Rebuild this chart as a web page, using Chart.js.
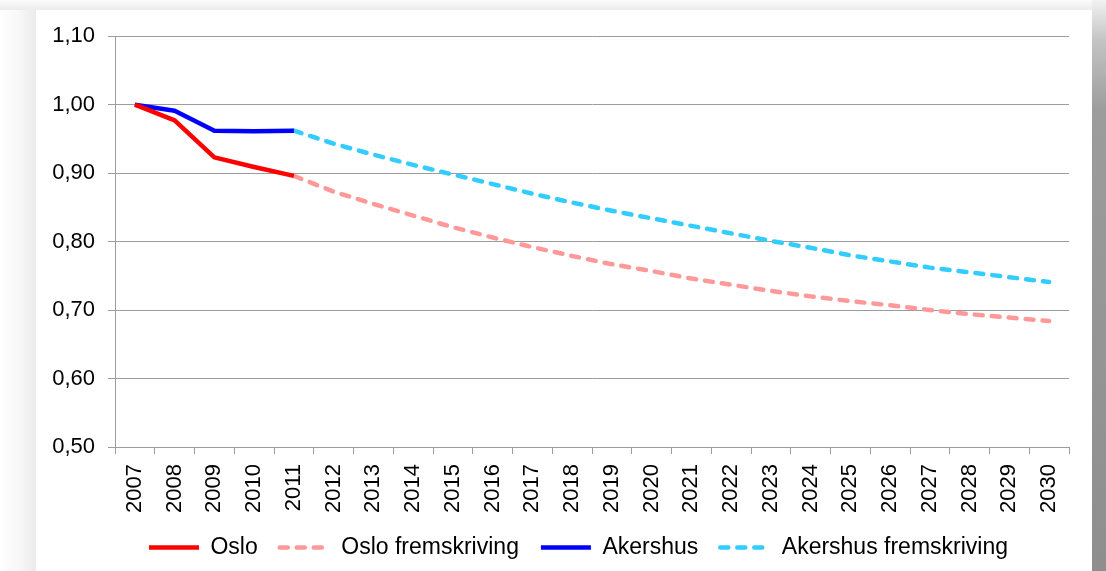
<!DOCTYPE html>
<html>
<head>
<meta charset="utf-8">
<script src="https://cdn.jsdelivr.net/npm/chart.js@4.4.1/dist/chart.umd.min.js"></script>
<style>
  html, body { margin: 0; padding: 0; background: #fff; }
  body { width: 1106px; height: 571px; position: relative; overflow: hidden; }
  .shade-left { position: absolute; left: 0; top: 0; width: 36px; height: 571px;
    background: linear-gradient(to right, #ffffff, #f6f6f6 60%, #ebebeb); }
  .shade-top { position: absolute; left: 0; top: 0; width: 1106px; height: 10px;
    background: linear-gradient(to bottom, #fbfbfb, #ececec); }
  .shade-right { position: absolute; left: 1092px; top: 0; width: 14px; height: 571px;
    background: linear-gradient(to bottom, #f2f2f2 0px, #c4c4c4 40px, #9c9c9c 110px, #8e8e8e 100%); }
  .card { position: absolute; left: 36px; top: 10px; width: 1056px; height: 561px;
    background: #fff; overflow: hidden; }
  canvas { display: block; }
</style>
</head>
<body>
<div class="shade-left"></div>
<div class="shade-top"></div>
<div class="shade-right"></div>
<div class="card"><canvas id="chart" width="1056" height="559"></canvas></div>
<script>
'use strict';

const YEARS = [
  '2007', '2008', '2009', '2010', '2011', '2012', '2013', '2014', '2015', '2016', '2017', '2018',
  '2019', '2020', '2021', '2022', '2023', '2024', '2025', '2026', '2027', '2028', '2029', '2030',
];

// observed 2007-2011
const OSLO = [1.000, 0.977, 0.923, 0.909, 0.896];
const AKERSHUS = [1.000, 0.991, 0.962, 0.961, 0.962];

// projections 2011-2030
const OSLO_PROJ = [
  0.896, 0.873, 0.855, 0.838, 0.821, 0.806, 0.792, 0.779, 0.767, 0.757,
  0.746, 0.737, 0.728, 0.720, 0.713, 0.707, 0.700, 0.694, 0.689, 0.684,
];
const AKERSHUS_PROJ = [
  0.962, 0.943, 0.927, 0.912, 0.898, 0.884, 0.870, 0.857, 0.845, 0.834,
  0.823, 0.812, 0.801, 0.791, 0.780, 0.771, 0.762, 0.755, 0.748, 0.741,
];

const Y_MIN = 0.5;
const Y_MAX = 1.1;
const Y_STEP = 0.1;

const FONT = '"Liberation Sans", Arial, sans-serif';
const GRID = '#9c9c9c';

// place a partial series on the full year axis, null elsewhere
function spread(values, startYear) {
  const start = YEARS.indexOf(startYear);
  return YEARS.map((_, i) => (i >= start && i - start < values.length ? values[i - start] : null));
}

function lineSet(label, data, color, dashed) {
  return {
    label,
    data,
    borderColor: color,
    backgroundColor: color,
    borderWidth: 4.5,
    borderDash: dashed ? [8, 9] : [],
    borderCapStyle: dashed ? 'round' : 'butt',
    borderJoinStyle: 'round',
    pointRadius: 0,
    pointHoverRadius: 0,
    tension: 0,
    spanGaps: false,
  };
}

// the legend sits a bit right of the canvas centre, under the plot area
const legendShift = {
  id: 'legendShift',
  afterLayout(chart) {
    chart.legend.left += 26;
    chart.legend.right += 26;
  },
};

// point-style legend items lose the dataset's dash, put it back
function legendLabels(chart) {
  const items = Chart.defaults.plugins.legend.labels.generateLabels(chart);
  return items.map(item => {
    const ds = chart.data.datasets[item.datasetIndex];
    return Object.assign(item, {
      strokeStyle: ds.borderColor,
      lineWidth: ds.borderWidth,
      lineDash: ds.borderDash,
      lineCap: ds.borderCapStyle,
    });
  });
}

const datasets = [
  lineSet('Oslo', spread(OSLO, '2007'), '#ff0000', false),
  lineSet('Oslo fremskriving', spread(OSLO_PROJ, '2011'), '#ff9999', true),
  lineSet('Akershus', spread(AKERSHUS, '2007'), '#0000ff', false),
  lineSet('Akershus fremskriving', spread(AKERSHUS_PROJ, '2011'), '#33ccff', true),
];

new Chart(document.getElementById('chart').getContext('2d'), {
  type: 'line',
  data: { labels: YEARS, datasets },
  plugins: [legendShift],
  options: {
    responsive: false,
    animation: false,
    devicePixelRatio: 1,
    layout: { padding: { left: 0, right: 23, top: 24, bottom: 0 } },
    plugins: {
      tooltip: { enabled: false },
      legend: {
        position: 'bottom',
        labels: {
          usePointStyle: true,
          pointStyle: 'line',
          pointStyleWidth: 50,
          boxHeight: 4,
          padding: 22,
          color: '#000',
          font: { family: FONT, size: 23 },
          generateLabels: legendLabels,
        },
      },
    },
    scales: {
      x: {
        type: 'category',
        offset: true,
        afterFit: scale => { scale.height = 67; },
        grid: { offset: true, drawOnChartArea: false, color: GRID, tickLength: 7 },
        border: { color: GRID },
        ticks: {
          color: '#000',
          font: { family: FONT, size: 22 },
          minRotation: 90,
          maxRotation: 90,
          autoSkip: false,
          padding: 10,
        },
      },
      y: {
        min: Y_MIN,
        max: Y_MAX,
        afterFit: scale => { scale.width = 79; },
        grid: { color: GRID, tickLength: 7 },
        border: { color: GRID },
        ticks: {
          stepSize: Y_STEP,
          color: '#000',
          padding: 13,
          font: { family: FONT, size: 22 },
          callback: value => value.toFixed(2).replace('.', ','),
        },
      },
    },
  },
});
</script>
</body>
</html>
